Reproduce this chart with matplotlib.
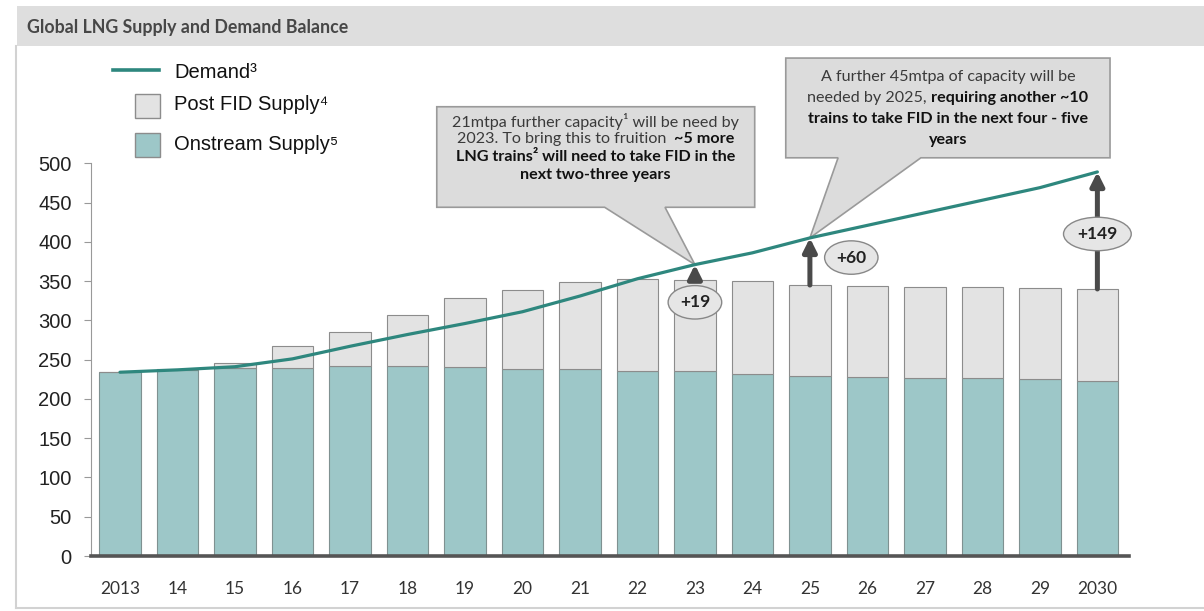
import numpy as np
import matplotlib.pyplot as plt
from matplotlib.patches import Polygon, Rectangle
from matplotlib.lines import Line2D
from matplotlib.transforms import IdentityTransform

# data (mtpa)
years = ['2013', '14', '15', '16', '17', '18', '19', '20', '21', '22',
         '23', '24', '25', '26', '27', '28', '29', '2030']
onstream = [234, 237, 239, 240, 242, 242, 241, 238, 238, 236,
            235, 232, 229, 228, 227, 226, 225, 223]
supply_total = [234, 238, 246, 268, 285, 307, 328, 339, 349, 353,
                352, 350, 345, 344, 343, 342, 341, 340]
demand = [234, 237, 241, 251, 267, 282, 296, 311, 331, 353,
          371, 386, 405, 421, 437, 453, 469, 489]
series_names = ['Demand³', 'Post FID Supply⁴', 'Onstream Supply⁵']
gap_idx = [10, 12, 17]
gap_labels = ['+19', '+60', '+149']
title = 'Global LNG Supply and Demand Balance'

post_fid = [t - o for t, o in zip(supply_total, onstream)]

teal = '#9dc7c8'
light = '#e3e3e3'
line_c = '#2e877e'
arrow_c = '#4a4a4a'
W, H = 1204, 611

fig = plt.figure(figsize=(W / 100, H / 100), dpi=100)
ax = fig.add_axes([91 / W, 1 - 556 / H, (1129 - 91) / W, (556 - 163.3) / H])

x = np.arange(len(years))
ax.bar(x, onstream, width=0.72, color=teal, edgecolor='#7f9191', linewidth=0.8, zorder=2)
ax.bar(x, post_fid, bottom=onstream, width=0.72, color=light, edgecolor='#8c8c8c',
       linewidth=0.8, zorder=2)
ax.plot(x, demand, color=line_c, lw=2.3, zorder=5, solid_capstyle='round')

ax.set_xlim(-0.504, 17.55)
ax.set_ylim(0, 500)
ax.set_yticks(range(0, 501, 50))
ax.set_xticks(x)
ax.set_xticklabels(years, family=['Lato', 'DejaVu Sans'], fontsize=12.5, color='#333')
for lab in ax.get_yticklabels():
    lab.set_family(['Liberation Sans', 'DejaVu Sans'])
    lab.set_fontsize(14.5)
    lab.set_color('#222')
ax.tick_params(axis='x', length=0, pad=18)
ax.tick_params(axis='y', length=5, color='#999', pad=9)
for s in ['top', 'right']:
    ax.spines[s].set_visible(False)
ax.spines['left'].set_color('#999')
ax.spines['bottom'].set_color('#555')
ax.spines['bottom'].set_linewidth(2.6)
ax.spines['bottom'].set_zorder(6)

# gap arrows and labels
lab_pos = {10: (10, 323), 12: (12.72, 380), 17: (17, 410)}
for i, lab in zip(gap_idx, gap_labels):
    ax.annotate('', xy=(i, demand[i]), xytext=(i, supply_total[i]),
                arrowprops=dict(arrowstyle='-|>', color=arrow_c, lw=3.6,
                                mutation_scale=20, shrinkA=0, shrinkB=0),
                zorder=7, annotation_clip=False)
    lx, ly = lab_pos[i]
    ax.text(lx, ly, lab, ha='center', va='center', fontsize=12.5, fontweight='bold',
            family=['Lato', 'DejaVu Sans'], color='#222', zorder=8,
            bbox=dict(boxstyle='ellipse,pad=0.22', fc='#e6e6e6', ec='#888', lw=1))


def callout(box, base, tip):
    x0, x1, y0, y1 = box
    pts = [(x0, y0), (base[0], y0), tip, (base[1], y0), (x1, y0), (x1, y1), (x0, y1)]
    ax.add_patch(Polygon(pts, closed=True, fc='#dcdcdc', ec='#9a9a9a', lw=1.2,
                         zorder=4, clip_on=False))


def callout_text(cx, top_y, lines, size, gap):
    rend = fig.canvas.get_renderer()
    px, py = ax.transData.transform((cx, top_y))
    space = 0.27 * size * 100 / 72
    for k, segs in enumerate(lines):
        txts = []
        for s, w in segs:
            t = fig.text(0, 0, s, fontsize=size, fontweight=w, va='center',
                         family=['Lato', 'DejaVu Sans'],
                         color='#111' if w == 'bold' else '#3a3a3a',
                         transform=IdentityTransform(), zorder=9)
            txts.append(t)
        widths = [t.get_window_extent(rend).width for t in txts]
        total = sum(widths) + space * (len(widths) - 1)
        xx = px - total / 2
        for t, w in zip(txts, widths):
            t.set_position((xx, py - k * gap))
            xx += w + space


callout((5.51, 11.04, 444, 572), (8.43, 9.48), (10, demand[10]))
callout((11.58, 17.22, 507, 634), (12.49, 13.93), (12, demand[12]))

fig.canvas.draw()
callout_text(8.275, (556 - 121) / 0.7854, [
    [('21mtpa further capacity¹ will be need by', 'normal')],
    [('2023. To bring this to fruition ', 'normal'), ('~5 more', 'bold')],
    [('LNG trains² will need to take FID in the', 'bold')],
    [('next two-three years', 'bold')],
], 11.6, 18)
callout_text(14.4, (556 - 77) / 0.7854, [
    [('A further 45mtpa of capacity will be', 'normal')],
    [('needed by 2025,', 'normal'), ('requiring another ~10', 'bold')],
    [('trains to take FID in the next four - five', 'bold')],
    [('years', 'bold')],
], 11.6, 21)

# header band and frame
fig.patches.append(Rectangle((17 / W, 1 - 46 / H), 1 - 17 / W, 40 / H, fc='#dedede',
                             ec='none', transform=fig.transFigure, zorder=0))
fig.lines.append(Line2D([16 / W, 16 / W], [1 - 46 / H, 1 - 608 / H], color='#d2d2d2',
                        lw=1.5, transform=fig.transFigure))
fig.lines.append(Line2D([16 / W, 1], [1 - 608 / H, 1 - 608 / H], color='#d2d2d2',
                        lw=1.5, transform=fig.transFigure))
fig.text(27 / W, 1 - 28 / H, title, fontsize=12.8, fontweight='bold', color='#474747',
         family=['Lato', 'DejaVu Sans'], va='center')

# legend drawn by hand
fig.lines.append(Line2D([113 / W, 159 / W], [1 - 70 / H] * 2, color=line_c, lw=2.6,
                        transform=fig.transFigure))
fig.text(174 / W, 1 - 72 / H, series_names[0], fontsize=14.5, va='center',
         family=['Liberation Sans', 'DejaVu Sans'], color='#111')
for yc, fc, name in [(106, light, series_names[1]), (145, teal, series_names[2])]:
    fig.patches.append(Rectangle((135 / W, 1 - (yc + 11.5) / H), 25 / W, 23 / H, fc=fc,
                                 ec='#8c8c8c', lw=1, transform=fig.transFigure))
    fig.text(174 / W, 1 - (yc - 1) / H, name, fontsize=14.5, va='center',
             family=['Liberation Sans', 'DejaVu Sans'], color='#111')

fig.savefig('out.png', dpi=100)
